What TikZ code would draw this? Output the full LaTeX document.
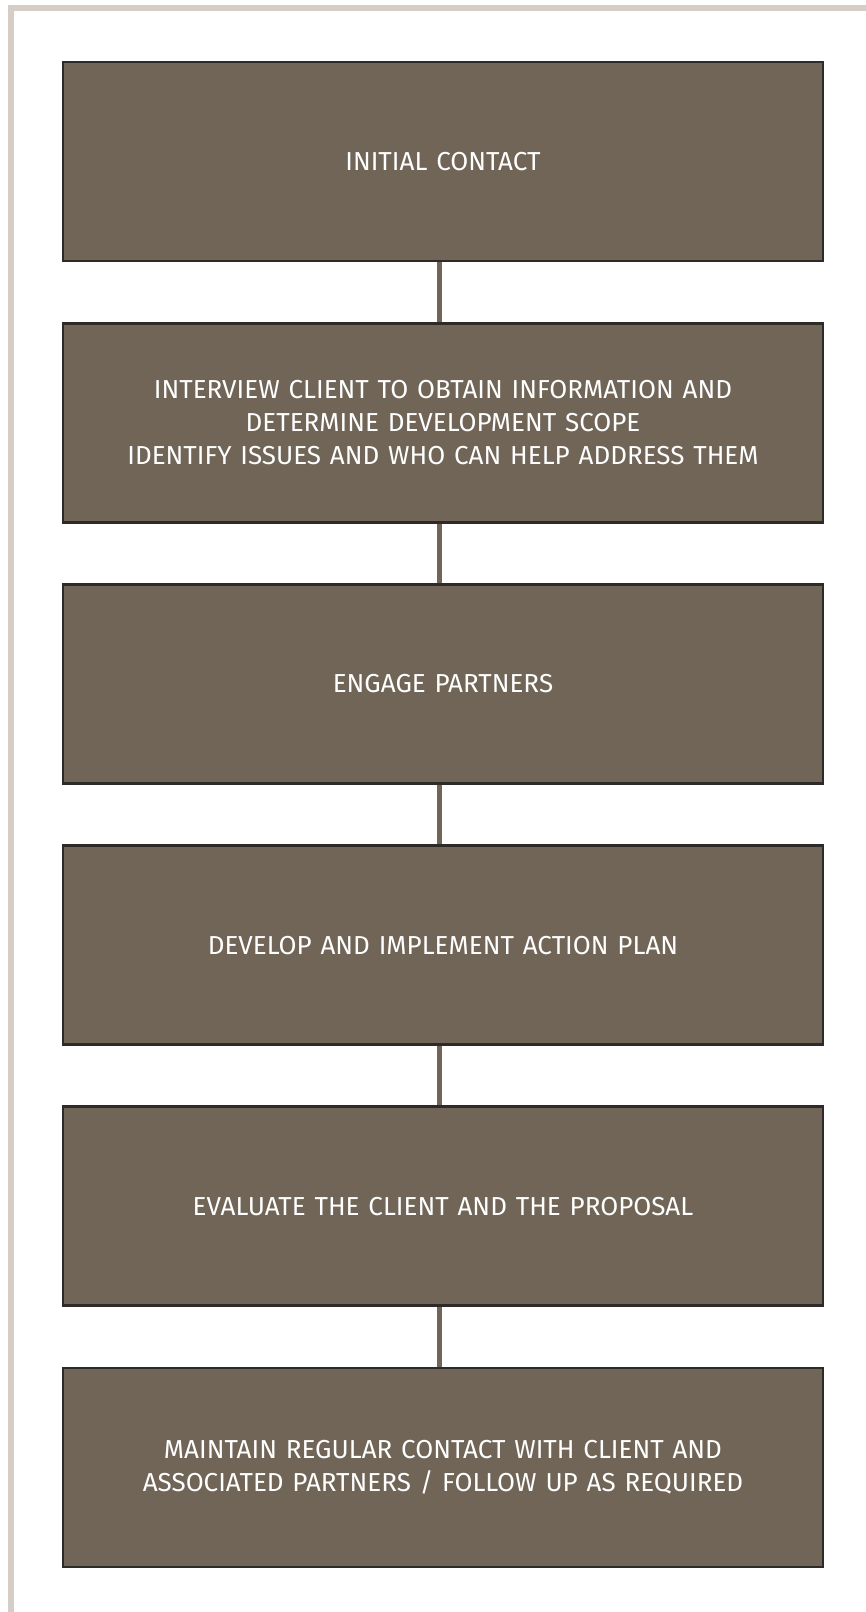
\documentclass[tikz,border=0pt]{standalone}
\usepackage{fontspec}
\setmainfont{Fira Sans}
\usetikzlibrary{backgrounds}
\definecolor{boxfill}{HTML}{706557}
\definecolor{boxedge}{HTML}{2D2A27}
\definecolor{framegrey}{HTML}{D5CDC6}
\newcommand{\stagefont}{\fontsize{26}{33}\selectfont\spaceskip=0.34em plus 0.1em\relax}
\begin{document}
\begin{tikzpicture}[x=1pt,y=-1pt,
  stepbox/.style={draw=boxedge, line width=2.8pt, fill=boxfill,
    minimum width=760pt, minimum height=199pt, inner sep=0pt,
    text=white, align=center, font=\stagefont},
  link/.style={draw=boxfill, line width=5pt}]
\useasboundingbox (0,0) rectangle (865,1612);
% page frame along the top and left edges
\draw[framegrey, line width=6pt] (10.5,1620) -- (10.5,8) -- (870,8);
% the six stages
\node[stepbox] (b1) at (443,161.5) {INITIAL CONTACT};
\node[stepbox] (b2) at (443,422.7) {INTERVIEW CLIENT TO OBTAIN INFORMATION AND\\DETERMINE DEVELOPMENT SCOPE\\IDENTIFY ISSUES AND WHO CAN HELP ADDRESS THEM};
\node[stepbox] (b3) at (443,683.9) {ENGAGE PARTNERS};
\node[stepbox] (b4) at (443,945.1) {DEVELOP AND IMPLEMENT ACTION PLAN};
\node[stepbox] (b5) at (443,1206.3) {EVALUATE THE CLIENT AND THE PROPOSAL};
\node[stepbox] (b6) at (443,1467.5) {MAINTAIN REGULAR CONTACT WITH CLIENT AND\\ASSOCIATED PARTNERS / FOLLOW UP AS REQUIRED};
% connectors between consecutive stages
\begin{scope}[on background layer]
\foreach \a/\b in {b1/b2,b2/b3,b3/b4,b4/b5,b5/b6}
  \draw[link] ([xshift=-4pt]\a.south) -- ([xshift=-4pt]\b.north);
\end{scope}
\end{tikzpicture}
\end{document}
